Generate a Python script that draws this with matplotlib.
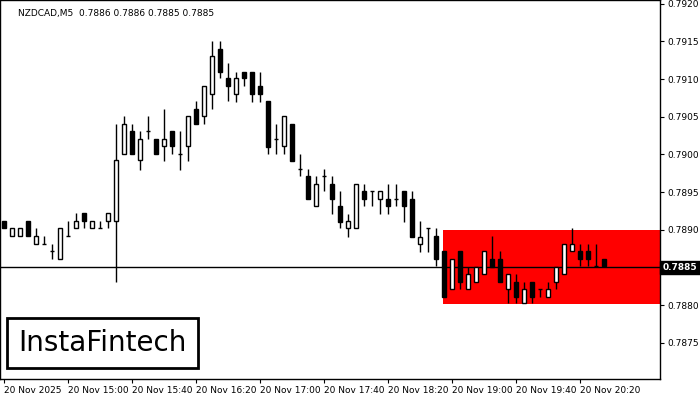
import matplotlib
matplotlib.use("Agg")
import matplotlib.pyplot as plt
from matplotlib.patches import Rectangle

opens = [.78912,.78892,.78892,.78912,.78881,.78881,.78872,.78861,.78892,.78902,.78922,.78902,.78902,.78912,
         .78912,.79000,.79031,.78992,.79031,.79021,.79011,.79031,.79000,.79011,.79060,.79051,.79080,.79140,.79101,
         .79080,.79110,.79110,.79091,.79071,.79020,.79011,.79041,.78981,.78971,.78932,.78971,.78961,.78932,.78902,
         .78902,.78952,.78951,.78941,.78941,.78941,.78952,.78941,.78881,.78902,.78892,
         .78872,.78821,.78872,.78821,.78831,.78841,.78861,.78861,.78821,.78831,.78803,.78831,.78821,.78811,.78831,
         .78841,.78872,.78872,.78872,.78852,.78861]
highs = [.78912,.78902,.78902,.78912,.78902,.78892,.78881,.78902,.78912,.78922,.78922,.78912,.78912,.78922,
         .79041,.79051,.79041,.79031,.79051,.79021,.79061,.79031,.79031,.79051,.79071,.79091,.79151,.79151,.79121,
         .79110,.79110,.79110,.79110,.79071,.79041,.79051,.79041,.79000,.78981,.78971,.78981,.78971,.78952,.78921,
         .78961,.78961,.78951,.78951,.78961,.78961,.78952,.78952,.78912,.78902,.78902,
         .78872,.78861,.78872,.78851,.78851,.78872,.78892,.78872,.78841,.78841,.78831,.78831,.78821,.78831,.78851,
         .78881,.78902,.78881,.78881,.78881,.78861]
lows = [.78902,.78892,.78892,.78892,.78881,.78881,.78861,.78861,.78892,.78902,.78902,.78902,.78902,.78902,
        .78831,.79000,.79000,.78980,.79021,.79000,.78991,.79000,.78980,.78991,.79041,.79041,.79060,.79101,.79071,
        .79070,.79091,.79070,.79070,.79000,.79000,.79000,.78991,.78971,.78941,.78932,.78951,.78921,.78902,.78891,
        .78902,.78931,.78931,.78921,.78921,.78931,.78911,.78891,.78871,.78871,.78852,
        .78811,.78821,.78821,.78821,.78831,.78841,.78851,.78831,.78803,.78803,.78803,.78803,.78811,.78811,.78821,
        .78841,.78872,.78852,.78852,.78852,.78852]
closes = [.78902,.78902,.78902,.78892,.78892,.78881,.78872,.78902,.78892,.78912,.78912,.78912,.78902,.78922,
          .78992,.79041,.79000,.79021,.79031,.79000,.79021,.79011,.79000,.79051,.79041,.79091,.79131,.79110,.79091,
          .79101,.79101,.79080,.79080,.79010,.79020,.79051,.78991,.78981,.78941,.78961,.78971,.78941,.78911,.78912,
          .78961,.78941,.78951,.78951,.78931,.78941,.78931,.78891,.78891,.78902,.78861,
          .78811,.78861,.78831,.78841,.78851,.78872,.78851,.78831,.78841,.78811,.78821,.78811,.78821,.78821,.78851,
          .78881,.78881,.78861,.78861,.78852,.78852]
price_ticks = [0.7875, 0.7880, 0.7885, 0.7890, 0.7895, 0.7900, 0.7905, 0.7910, 0.7915, 0.7920]
time_labels = ["20 Nov 2025", "20 Nov 15:00", "20 Nov 15:40", "20 Nov 16:20", "20 Nov 17:00",
               "20 Nov 17:40", "20 Nov 18:20", "20 Nov 19:00", "20 Nov 19:40", "20 Nov 20:20"]
current_price = 0.7885
zone_top, zone_bottom, zone_start = 0.7890, 0.78801, 54.9

fig = plt.figure(figsize=(7, 4), dpi=100)
ax = fig.add_axes([0.0, 0.0525, 660/700, 0.9475])
ymin, ymax = 0.78702, 0.79205
ax.set_ylim(ymin, ymax)
ax.set_xlim(-0.5, 82)

ax.add_patch(Rectangle((zone_start, zone_bottom), 82 - zone_start, zone_top - zone_bottom,
                       facecolor="#ff0000", edgecolor="none", zorder=1))
ax.axhline(current_price, color="black", lw=1, zorder=2)

w = 0.6
for i, (o, h, l, c) in enumerate(zip(opens, highs, lows, closes)):
    ax.vlines(i, l, h, color="black", lw=1, zorder=3)
    if abs(c - o) < 1e-6:
        ax.hlines(o, i - w/2, i + w/2, color="black", lw=1, zorder=4)
    else:
        fc = "white" if c > o else "black"
        ax.add_patch(Rectangle((i - w/2, min(o, c)), w, abs(c - o), facecolor=fc,
                               edgecolor="black", lw=1, zorder=4))

ax.yaxis.tick_right()
ax.set_yticks(price_ticks)
ax.set_yticklabels(["" if abs(p - current_price) < 1e-9 else f"{p:.4f}" for p in price_ticks], fontsize=6.5)
ax.tick_params(axis="y", length=3, pad=2)
ticks = [8*k for k in range(len(time_labels))]
ax.set_xticks(ticks)
ax.set_xticklabels(time_labels, fontsize=6.5, ha="left")
ax.tick_params(axis="x", length=3, pad=2)
for s in ax.spines.values():
    s.set_color("black"); s.set_linewidth(1)

ax.text(1.004, current_price, f"{current_price:.4f}", transform=ax.get_yaxis_transform(),
        fontsize=6.5, color="white", va="center", ha="left", fontweight="bold",
        bbox=dict(boxstyle="square,pad=0.25", facecolor="black", edgecolor="black"), zorder=10, clip_on=False)

ax.text(0.027, 0.975, "NZDCAD,M5  0.7886 0.7886 0.7885 0.7885", transform=ax.transAxes,
        fontsize=6.5, va="top", ha="left")
ax.text(0.155, 0.095, "InstaFintech", transform=ax.transAxes, fontsize=20, va="center", ha="center",
        fontweight="medium",
        bbox=dict(boxstyle="square,pad=0.4", facecolor="white", edgecolor="black", lw=2), zorder=10)

fig.savefig("out.png", dpi=100)
